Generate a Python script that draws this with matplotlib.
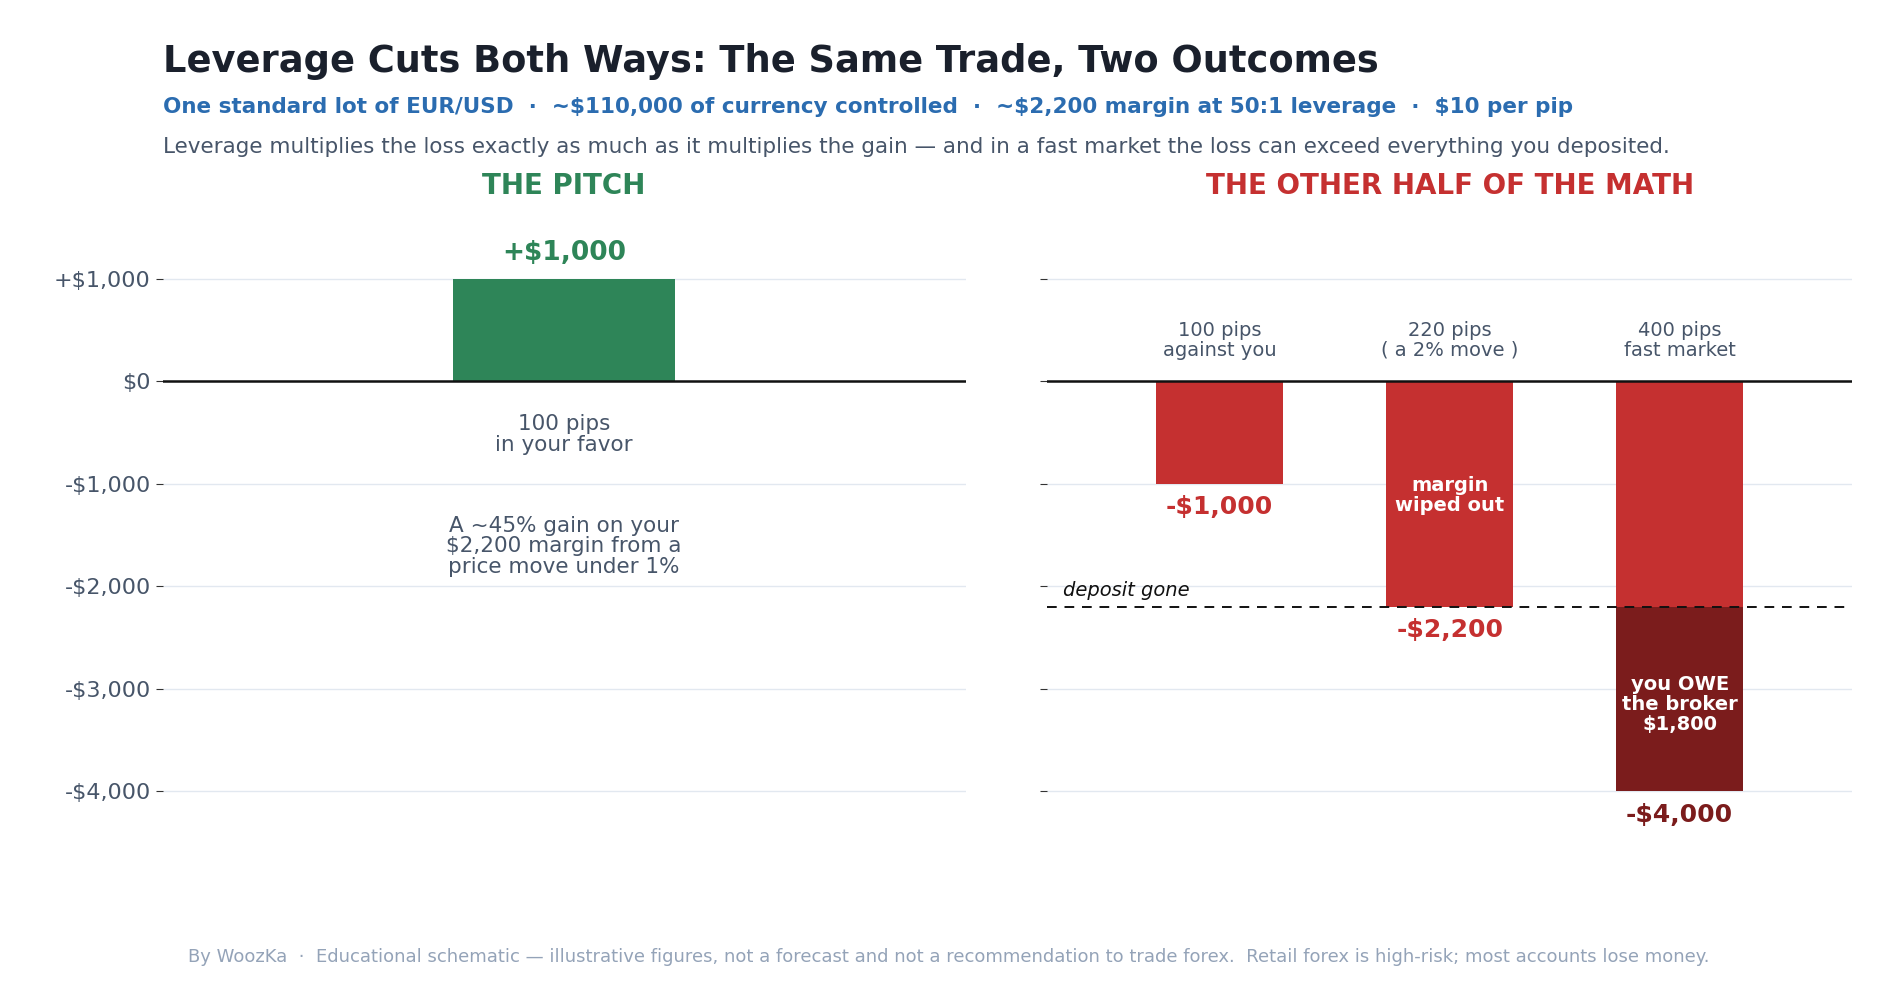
import matplotlib.pyplot as plt

GREEN = "#2e8558"
RED = "#c53030"
DARK_RED = "#7b1c1c"
GREY = "#475569"

pitch_value = 1000
loss_labels = ["100 pips\nagainst you", "220 pips\n( a 2% move )", "400 pips\nfast market"]
loss_values = [-1000, -2200, -4000]
deposit = -2200
yticks = [1000, 0, -1000, -2000, -3000, -4000]
ytick_labels = ["+$1,000", "$0", "-$1,000", "-$2,000", "-$3,000", "-$4,000"]

fig = plt.figure(figsize=(18.9, 9.9), dpi=100)
ax1 = fig.add_axes([0.086, 0.128, 0.425, 0.665])
ax2 = fig.add_axes([0.554, 0.128, 0.426, 0.665])

for ax in (ax1, ax2):
    ax.set_ylim(-4700, 1720)
    ax.set_yticks(yticks)
    ax.grid(axis="y", color="#e2e8f0", lw=1)
    ax.set_axisbelow(True)
    for s in ax.spines.values():
        s.set_visible(False)
    ax.set_xticks([])
    ax.axhline(0, color="#111111", lw=1.8, zorder=3)
    ax.tick_params(axis="y", length=5, color="#333333", labelcolor=GREY, labelsize=16)

ax1.set_yticklabels(ytick_labels)
ax2.set_yticklabels([])

# left panel
ax1.set_xlim(0, 1)
ax1.bar(0.5, pitch_value, width=0.277, color=GREEN, zorder=2)
ax1.text(0.5, pitch_value + 120, "+$1,000", ha="center", va="bottom", color=GREEN, fontsize=19, fontweight="bold")
ax1.text(0.5, -320, "100 pips\nin your favor", ha="center", va="top", color=GREY, fontsize=15.5, linespacing=1.05)
ax1.text(0.5, -1310, "A ~45% gain on your\n$2,200 margin from a\nprice move under 1%", ha="center", va="top", color=GREY, fontsize=15.5, linespacing=1.05)
ax1.set_title("THE PITCH", color=GREEN, fontsize=20, fontweight="bold", pad=8)

# right panel
ax2.set_xlim(-0.75, 2.75)
xs = range(len(loss_values))
for i, v in zip(xs, loss_values):
    top = max(v, deposit)
    ax2.bar(i, top, width=0.55, color=RED, zorder=2)
    if v < deposit:
        ax2.bar(i, v - deposit, bottom=deposit, width=0.55, color=DARK_RED, zorder=2)
    ax2.text(i, 210, loss_labels[i], ha="center", va="bottom", color=GREY, fontsize=14, linespacing=1.05)

ax2.text(0, -1110, "-$1,000", ha="center", va="top", color=RED, fontsize=18, fontweight="bold")
ax2.text(1, -2310, "-$2,200", ha="center", va="top", color=RED, fontsize=18, fontweight="bold")
ax2.text(2, -4110, "-$4,000", ha="center", va="top", color=DARK_RED, fontsize=18, fontweight="bold")
ax2.text(1, -1110, "margin\nwiped out", ha="center", va="center", color="white", fontsize=14, fontweight="bold", linespacing=1.05)
ax2.text(2, -3150, "you OWE\nthe broker\n$1,800", ha="center", va="center", color="white", fontsize=14, fontweight="bold", linespacing=1.05)
ax2.axhline(deposit, color="#111111", lw=1.4, ls=(0, (5, 4)), zorder=4)
ax2.text(-0.68, deposit + 70, "deposit gone", ha="left", va="bottom", color="#111111", fontsize=14, style="italic")
ax2.set_title("THE OTHER HALF OF THE MATH", color=RED, fontsize=20, fontweight="bold", pad=8)

fig.text(0.086, 0.938, "Leverage Cuts Both Ways: The Same Trade, Two Outcomes", fontsize=26.5, fontweight="bold", color="#1a202c", va="center")
fig.text(0.086, 0.892, "One standard lot of EUR/USD  ·  ~$110,000 of currency controlled  ·  ~$2,200 margin at 50:1 leverage  ·  $10 per pip",
         fontsize=15.5, fontweight="bold", color="#2b6cb0", va="center")
fig.text(0.086, 0.852, "Leverage multiplies the loss exactly as much as it multiplies the gain — and in a fast market the loss can exceed everything you deposited.",
         fontsize=15.5, color=GREY, va="center")
fig.text(0.502, 0.033, "By WoozKa  ·  Educational schematic — illustrative figures, not a forecast and not a recommendation to trade forex.  Retail forex is high-risk; most accounts lose money.",
         fontsize=13, color="#94a3b8", ha="center", va="center")

fig.savefig("out.png", dpi=100)
